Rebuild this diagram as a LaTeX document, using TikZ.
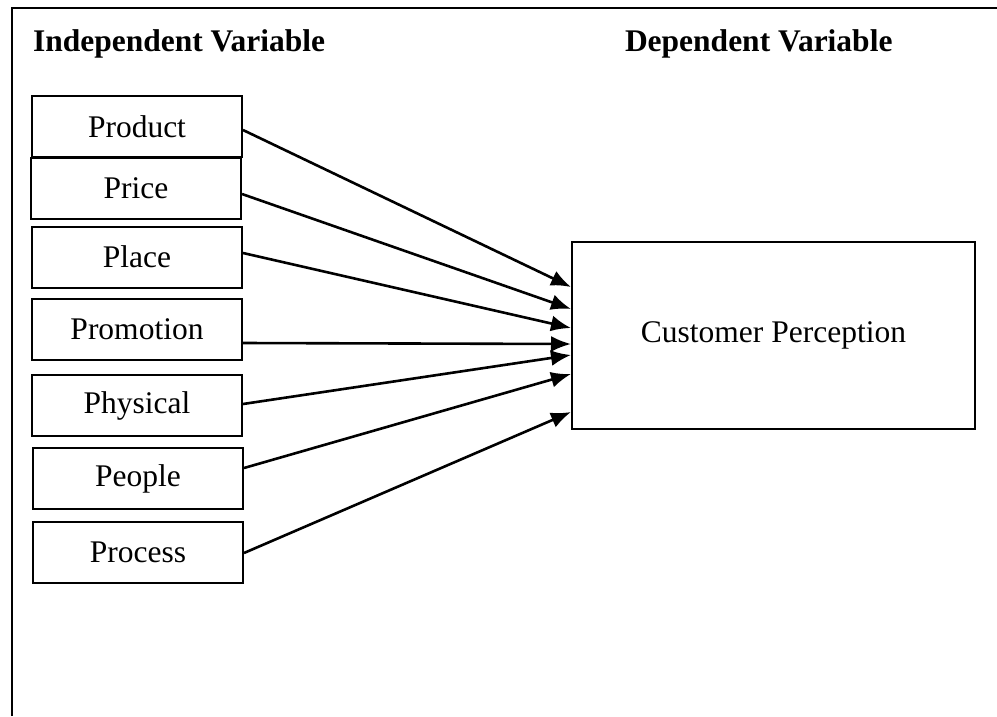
\documentclass[tikz,border=0pt]{standalone}
\usepackage{fontspec}
\setmainfont{Liberation Serif}
\usetikzlibrary{arrows.meta}

\begin{document}
\begin{tikzpicture}[x = 1pt, y = -1pt, line width = 2pt,
  var/.style = {draw, minimum width = 210pt, minimum height = 61pt, inner sep = 0pt, font = \fontsize{31.5}{38}\selectfont},
  heading/.style = {anchor = base west, inner sep = 0pt, font = \fontsize{31.5}{38}\selectfont\bfseries},
  conn/.style = {-{Latex[length = 20pt, width = 16pt]}, line width = 2.6pt}]
\useasboundingbox (0, 0) rectangle (997, 716);
\draw (12, 716) -- (12, 8) -- (997, 8);
\node[heading] (indep) at (32, 51) {Independent Variable};
\node[heading] (dep) at (624, 51) {Dependent Variable};
\node[var] (product) at (137, 126.5) {Product};
\node[var] (price) at (136, 188) {Price};
\node[var] (place) at (137, 257) {Place};
\node[var] (promotion) at (137, 329.5) {Promotion};
\node[var] (physical) at (137, 405.5) {Physical};
\node[var] (people) at (138, 478.5) {People};
\node[var] (process) at (138, 552.5) {Process};
\node[draw, minimum width = 403pt, minimum height = 187pt, inner sep = 0pt, font = \fontsize{31.5}{38}\selectfont] (cp) at (773.5, 335.5) {Customer Perception};
\draw [conn] ([yshift = -3.5pt]product.east) -- ([yshift = 48.5pt]cp.west);
\draw [conn] ([yshift = -6pt]price.east) -- ([yshift = 26.5pt]cp.west);
\draw [conn] ([yshift = 4pt]place.east) -- ([yshift = 7.5pt]cp.west);
\draw [conn] ([yshift = -13.5pt]promotion.east) -- ([yshift = -8.5pt]cp.west);
\draw [conn] ([yshift = 1.5pt]physical.east) -- ([yshift = -19.5pt]cp.west);
\draw [conn] ([yshift = 10.5pt]people.east) -- ([yshift = -38.5pt]cp.west);
\draw [conn] ([yshift = -0.5pt]process.east) -- ([yshift = -76.5pt]cp.west);
\end{tikzpicture}
\end{document}
